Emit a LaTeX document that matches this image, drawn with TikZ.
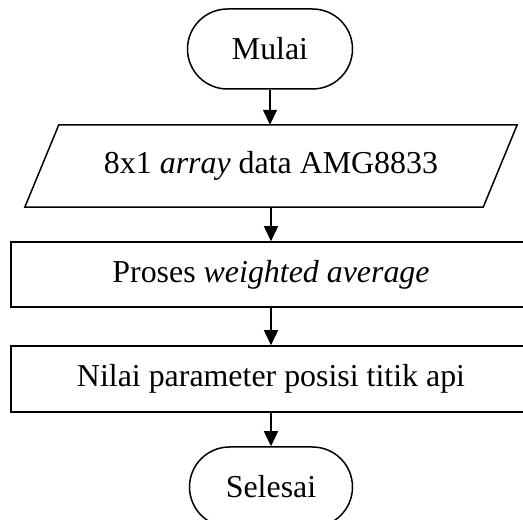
\documentclass[tikz,border=0pt]{standalone}
\usepackage{fontspec}
\setmainfont{Liberation Serif}
\usetikzlibrary{arrows.meta}
\begin{document}
\begin{tikzpicture}[x=1pt,y=1pt,
  every node/.style={font=\fontsize{31.9}{38}\selectfont, inner sep=0pt},
  terminal/.style={draw, line width=1.5pt, rounded corners=40pt,
    minimum width=165pt, minimum height=80pt},
  process/.style={draw, line width=1.5pt, minimum width=520pt, minimum height=65pt},
  flow/.style={line width=1.5pt, -{Triangle[length=15pt,width=14pt]}}]
  \useasboundingbox (0,0) rectangle (523,520);

  % start / end terminals
  \node[terminal] (mulai) at (270,471) {Mulai};
  \node[terminal, minimum width=163pt] (selesai) at (271,33) {Selesai};

  % input parallelogram: text node plus slanted outline
  \node[minimum width=458pt, minimum height=82pt] (input) at (271,354)
    {8x1 \textit{array} data AMG8833};
  \draw[line width=1.5pt]
    ([xshift=17pt]input.north west) -- ([xshift=17pt]input.north east)
    -- ([xshift=-17pt]input.south east) -- ([xshift=-17pt]input.south west) -- cycle;

  % processing steps
  \node[process] (proses) at (271,245.5) {Proses \textit{weighted average}};
  \node[process, minimum height=66pt] (nilai) at (271,141)
    {Nilai parameter posisi titik api};

  % connectors
  \draw[flow] (mulai.south) -- (mulai.south |- input.north);
  \draw[flow] (input.south) -- (proses.north);
  \draw[flow] (proses.south) -- (nilai.north);
  \draw[flow] (nilai.south) -- (selesai.north);
\end{tikzpicture}
\end{document}
